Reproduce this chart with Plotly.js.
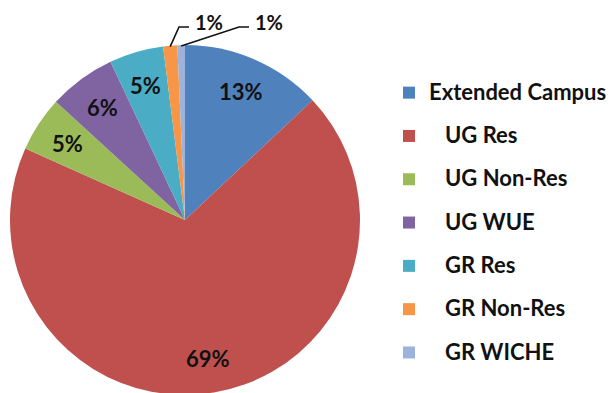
<!DOCTYPE html>
<html>
<head>
<meta charset="utf-8">
<script src="https://cdn.plot.ly/plotly-3.0.1.min.js"></script>
<style>
  html, body { margin: 0; padding: 0; background: #fff; overflow: hidden; }
  #chart { width: 613px; height: 400px; }
</style>
</head>
<body>
<div id="chart"></div>
<script>
// Enrollment share by student category
const categories = ['Extended Campus', 'UG Res', 'UG Non-Res', 'UG WUE', 'GR Res', 'GR Non-Res', 'GR WICHE'];
const shares = [13.0, 68.7, 5.1, 6.2, 5.0, 1.3, 0.7];
const colors = ['#4F81BD', '#C0504D', '#9BBB59', '#8064A2', '#4BACC6', '#F79646', '#9DB3DC'];
// Legend labels after the first are indented
const legendIndent = [0, 3, 3, 3, 3, 3, 3];

const W = 613, H = 400;
const cx = 185, cy = 220, R = 175;           // pie centre and radius in pixels
const px = x => x / W;
const py = y => 1 - y / H;

const FONT = 'Lato, "Open Sans", sans-serif';

// Legend rows use a tall line box with smaller glyphs for wider row spacing
const legendNames = categories.map((c, i) =>
  '<span style="font-size:22px;baseline-shift:5px">' + '\u00a0'.repeat(legendIndent[i]) + c + '</span>');

const trace = {
  type: 'pie',
  labels: legendNames,
  values: shares,
  sort: false,
  direction: 'clockwise',
  rotation: 0,
  marker: { colors: colors, line: { width: 0 } },
  textinfo: 'none',
  hoverinfo: 'skip',
  domain: { x: [px(cx - R), px(cx + R)], y: [py(cy + R), py(cy - R)] }
};

// Percentage labels placed along each slice's mid-angle
const total = shares.reduce((a, b) => a + b, 0);
const annotations = [];
const shapes = [];
let cum = 0, outsideCount = 0;
shares.forEach((v, i) => {
  const mid = (cum + v / 2) / total * 2 * Math.PI;
  cum += v;
  const pct = Math.round(v / total * 100) + '%';
  if (v / total >= 0.02) {
    const f = 0.8;
    annotations.push({
      x: px(cx + f * R * Math.sin(mid)), y: py(cy - f * R * Math.cos(mid)),
      xref: 'paper', yref: 'paper', xanchor: 'center', yanchor: 'middle',
      text: '<b>' + pct + '</b>', showarrow: false,
      font: { family: FONT, size: 22, color: '#111' }
    });
  } else {
    // small slices: label above the pie with an elbow leader
    const sx = cx + R * Math.sin(mid), sy = cy - R * Math.cos(mid);
    const tx = 193 + 60 * outsideCount;
    const ly = 27;
    shapes.push({
      type: 'path', xref: 'paper', yref: 'paper',
      path: `M${px(sx)},${py(sy + 1)} L${px(tx - 14)},${py(ly)} L${px(tx - 4)},${py(ly)}`,
      line: { color: '#111', width: 1.6 }
    });
    annotations.push({
      x: px(tx), y: py(22), xref: 'paper', yref: 'paper', xanchor: 'left', yanchor: 'middle',
      text: '<b>' + pct + '</b>', showarrow: false,
      font: { family: FONT, size: 20, color: '#111' }
    });
    outsideCount++;
  }
});

const layout = {
  width: W, height: H,
  margin: { l: 0, r: 0, t: 0, b: 0 },
  paper_bgcolor: '#fff',
  showlegend: true,
  legend: {
    x: px(389), y: py(66), xanchor: 'left', yanchor: 'top',
    font: { family: FONT, size: 31, color: '#111', weight: 'bold' },
    itemclick: false, itemdoubleclick: false
  },
  annotations: annotations,
  shapes: shapes
};

Plotly.newPlot('chart', [trace], layout, { displayModeBar: false, staticPlot: true });
</script>
</body>
</html>
